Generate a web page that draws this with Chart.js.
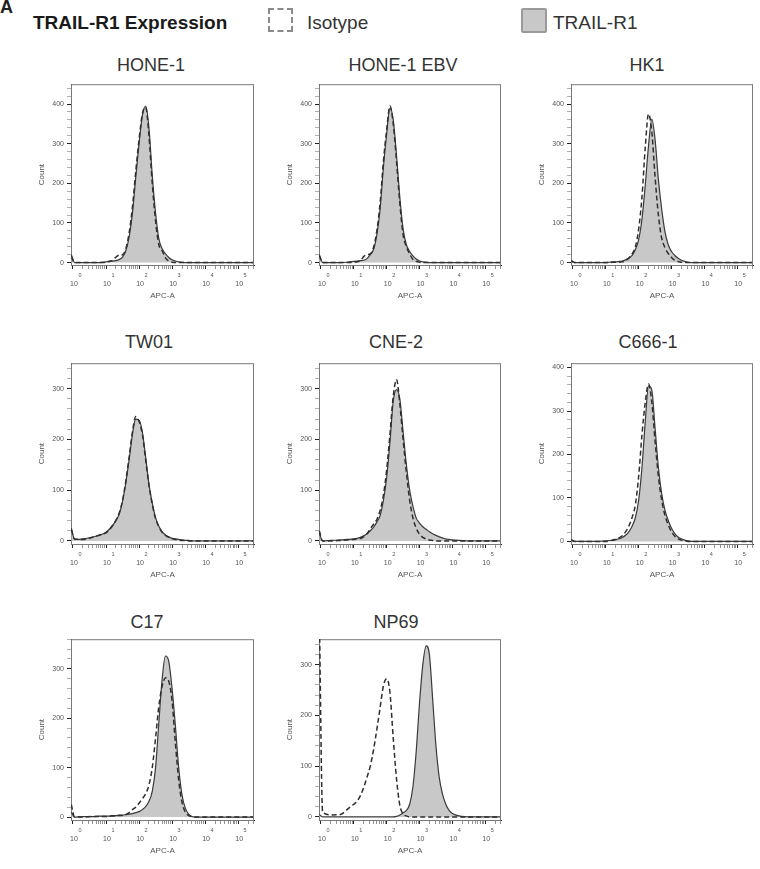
<!DOCTYPE html>
<html>
<head>
<meta charset="utf-8">
<script src="https://cdn.jsdelivr.net/npm/chart.js@4.4.0/dist/chart.umd.min.js"></script>
<style>
  body { margin: 0; background: #fff; }
  #page { position: relative; width: 760px; height: 869px; overflow: hidden; font-family: 'Liberation Sans', Arial, sans-serif; color: #222; }
  #page canvas { position: absolute; }
  .hdr { position: absolute; white-space: nowrap; }
  .ptitle { position: absolute; width: 200px; text-align: center; font: 18px/18px 'Liberation Sans', Arial, sans-serif; color: #333; }
</style>
</head>
<body>
<div id="page">
  <div class="hdr" style="left:0;top:-2px;font:bold 18px/18px 'Liberation Sans',Arial,sans-serif;">A</div>
  <div class="hdr" style="left:33px;top:13px;font:bold 19px/19px 'Liberation Sans',Arial,sans-serif;color:#1a1a1a;">TRAIL-R1 Expression</div>
  <div class="hdr" style="left:268px;top:8px;width:21px;height:20px;border:2.5px dashed #8a8a8a;"></div>
  <div class="hdr" style="left:307px;top:13px;font:19px/19px 'Liberation Sans',Arial,sans-serif;color:#333;">Isotype</div>
  <div class="hdr" style="left:521px;top:8px;width:22px;height:21px;border:2px solid #9a9a9a;border-radius:2px;background:#c8c8c8;"></div>
  <div class="hdr" style="left:553px;top:13px;font:19px/19px 'Liberation Sans',Arial,sans-serif;color:#333;">TRAIL-R1</div>
</div>
<script>
// --- DATA ---
// x positions in decades (log10 of APC-A), shared by all histograms
const logX = [
  -0.05, 0.05, 0.3, 0.6, 0.8,
  1.0, 1.1, 1.2, 1.3, 1.4, 1.5, 1.6, 1.7, 1.8, 1.9,
  2.0, 2.1, 2.2, 2.3, 2.4, 2.5, 2.6, 2.7, 2.8, 2.9,
  3.0, 3.1, 3.2, 3.3, 3.4, 3.5, 3.6, 3.7, 3.8, 3.9,
  4.0, 4.2, 4.6, 5.0, 5.45
];

const panelNames = ['HONE-1', 'HONE-1 EBV', 'HK1', 'TW01', 'CNE-2', 'C666-1', 'C17', 'NP69'];
const panelMaxY = [450, 450, 450, 350, 350, 410, 360, 350];

// decade ticks: base "10" on one axis, exponent on the other
const xDecades = [0, 1, 2, 3, 4, 5];
const xBaseLabel = '10';
const yLabelStep = 100;
const yMinorStep = 20;

const hone1Trail = [
  20, 0, 0, 0, 0,
  2, 4, 4, 5, 8, 14, 30, 65, 125, 215,
  300, 370, 395, 340, 220, 125, 60, 35, 22, 13,
  7, 4, 2, 1, 0, 0, 0, 0, 0, 0,
  0, 0, 0, 0, 0
];
const hone1Iso = [
  15, 0, 0, 0, 0,
  1, 3, 6, 14, 19, 20, 35, 75, 140, 230,
  310, 375, 392, 320, 200, 105, 45, 30, 12, 4,
  1, 0, 0, 0, 0, 0, 0, 0, 0, 0,
  0, 0, 0, 0, 0
];
const ebvTrail = [
  20, 0, 0, 0, 1,
  3, 4, 5, 6, 10, 20, 33, 70, 135, 240,
  325, 390, 360, 270, 165, 85, 45, 28, 17, 9,
  4, 2, 1, 0, 0, 0, 0, 0, 0, 0,
  0, 0, 0, 0, 0
];
const ebvIso = [
  18, 0, 0, 0, 0,
  1, 2, 5, 15, 20, 22, 38, 80, 150, 255,
  335, 395, 350, 255, 150, 70, 40, 22, 8, 3,
  1, 0, 0, 0, 0, 0, 0, 0, 0, 0,
  0, 0, 0, 0, 0
];
const hk1Trail = [
  5, 0, 0, 0, 0,
  0, 1, 2, 2, 3, 4, 7, 11, 18, 33,
  58, 110, 195, 295, 362, 310, 210, 135, 78, 45,
  28, 18, 11, 6, 3, 1, 0, 0, 0, 0,
  0, 0, 0, 0, 0
];
const hk1Iso = [
  4, 0, 0, 0, 0,
  0, 0, 1, 1, 1, 2, 5, 12, 22, 40,
  85, 165, 290, 375, 330, 215, 120, 62, 38, 23,
  13, 6, 3, 1, 0, 0, 0, 0, 0, 0,
  0, 0, 0, 0, 0
];
const tw01Trail = [
  25, 3, 4, 8, 11,
  17, 23, 31, 40, 53, 78, 115, 160, 210, 240,
  238, 215, 165, 112, 75, 46, 29, 18, 12, 8,
  5, 4, 3, 2, 1, 1, 0, 0, 0, 0,
  0, 0, 0, 0, 0
];
const tw01Iso = [
  22, 4, 3, 7, 12,
  16, 22, 30, 41, 55, 80, 118, 165, 215, 245,
  235, 210, 160, 110, 72, 44, 28, 17, 11, 7,
  5, 3, 2, 1, 1, 0, 0, 0, 0, 0,
  0, 0, 0, 0, 0
];
const cne2Trail = [
  15, 0, 1, 2, 3,
  4, 5, 7, 10, 14, 20, 27, 37, 50, 80,
  125, 195, 275, 298, 280, 215, 150, 100, 68, 45,
  35, 28, 23, 18, 14, 11, 8, 6, 4, 3,
  2, 1, 0, 0, 0
];
const cne2Iso = [
  20, 0, 0, 1, 2,
  3, 4, 5, 8, 14, 24, 33, 42, 60, 90,
  140, 210, 285, 318, 270, 200, 135, 80, 45, 25,
  13, 7, 4, 2, 1, 0, 0, 0, 0, 0,
  0, 0, 0, 0, 0
];
const c666Trail = [
  3, 0, 0, 0, 0,
  1, 2, 2, 4, 6, 9, 14, 22, 35, 55,
  95, 170, 275, 358, 348, 260, 170, 110, 72, 48,
  30, 18, 10, 6, 3, 1, 0, 0, 0, 0,
  0, 0, 0, 0, 0
];
const c666Iso = [
  4, 0, 0, 0, 0,
  0, 1, 3, 5, 8, 13, 22, 35, 55, 85,
  150, 245, 320, 362, 320, 230, 150, 95, 60, 38,
  22, 12, 6, 3, 1, 0, 0, 0, 0, 0,
  0, 0, 0, 0, 0
];
const c17Trail = [
  10, 0, 1, 1, 2,
  2, 2, 3, 3, 4, 4, 5, 6, 7, 9,
  11, 15, 21, 32, 52, 100, 192, 280, 326, 315,
  260, 185, 100, 45, 18, 6, 1, 0, 0, 0,
  0, 0, 0, 0, 0
];
const c17Iso = [
  25, 0, 0, 1, 1,
  1, 2, 2, 2, 3, 3, 5, 9, 15, 20,
  28, 37, 47, 65, 100, 160, 225, 265, 282, 275,
  235, 150, 75, 30, 10, 3, 1, 0, 0, 0,
  0, 0, 0, 0, 0
];
const np69Trail = [
  5, 0, 0, 0, 0,
  0, 0, 0, 0, 0, 0, 0, 0, 0, 0,
  0, 0, 0, 1, 4, 8, 13, 25, 60, 130,
  225, 300, 337, 320, 232, 140, 78, 45, 25, 13,
  7, 2, 0, 0, 0
];
const np69Iso = [
  400, 10, 4, 5, 15,
  25, 31, 42, 58, 78, 100, 132, 172, 215, 258,
  272, 245, 155, 75, 23, 6, 2, 0, 0, 0,
  0, 0, 0, 0, 0, 0, 0, 0, 0, 0,
  0, 0, 0, 0, 0
];

const trailSeries = [hone1Trail, ebvTrail, hk1Trail, tw01Trail, cne2Trail, c666Trail, c17Trail, np69Trail];
const isoSeries = [hone1Iso, ebvIso, hk1Iso, tw01Iso, cne2Iso, c666Iso, c17Iso, np69Iso];

// --- LAYOUT (plot box left, top, width, height) ---
const PANEL_BOXES = [
  [71, 83, 183, 182], [319, 83, 182, 182], [571, 83, 182, 182],
  [71, 362, 183, 182], [319, 362, 182, 182], [571, 362, 182, 182],
  [71, 638, 183, 182], [319, 638, 182, 182]
];
const TITLE_CX = [151, 403, 647, 149, 396, 648, 147, 396];
const TITLE_CY = [65, 65, 65, 342, 342, 342, 622, 622];
const Y_AXIS_W = 40, X_EXP_H = 13, X_BASE_H = 27, PAD_TOP = 6, PAD_RIGHT = 4;
const X_MIN = -0.06, X_MAX = 5.48;
const FONT = "'Liberation Sans', Arial, sans-serif";

// minor tick positions on the log axis (2..9 in each decade)
const xMinor = [];
for (let d = 0; d <= 5; d++) {
    for (let k = 2; k <= 9; k++) {
        const v = d + Math.log10(k);
        if (v < X_MAX) xMinor.push(v);
    }
}

const framePlugin = {
    id: 'frame',
    beforeDatasetsDraw(chart) {
        const { ctx, chartArea: a } = chart;
        ctx.save();
        ctx.strokeStyle = '#7a7a7a';
        ctx.lineWidth = 1;
        ctx.strokeRect(a.left + 0.5, a.top + 0.5, a.width - 1, a.height);
        ctx.restore();
    }
};

function isWhole(v) { return Math.abs(v - Math.round(v)) < 1e-9; }

function renderPanel(i) {
    const page = document.getElementById('page');
    const [left, top, w, h] = PANEL_BOXES[i];

    const title = document.createElement('div');
    title.className = 'ptitle';
    title.textContent = panelNames[i];
    title.style.left = (TITLE_CX[i] - 100) + 'px';
    title.style.top = (TITLE_CY[i] - 9) + 'px';
    page.appendChild(title);

    const canvas = document.createElement('canvas');
    canvas.width = Y_AXIS_W + w + PAD_RIGHT;
    canvas.height = PAD_TOP + h + X_EXP_H + X_BASE_H;
    canvas.style.left = (left - Y_AXIS_W) + 'px';
    canvas.style.top = (top - PAD_TOP) + 'px';
    page.appendChild(canvas);

    const toPoints = vals => logX.map((x, j) => ({ x: x, y: vals[j] }));
    const maxY = panelMaxY[i];

    new Chart(canvas.getContext('2d'), {
        type: 'line',
        data: {
            datasets: [
                {
                    label: 'Isotype',
                    data: toPoints(isoSeries[i]),
                    borderColor: '#2e2e2e',
                    borderWidth: 1.5,
                    borderDash: [5, 3],
                    fill: false,
                    pointRadius: 0,
                    cubicInterpolationMode: 'monotone'
                },
                {
                    label: 'TRAIL-R1',
                    data: toPoints(trailSeries[i]),
                    borderColor: '#3a3a3a',
                    backgroundColor: '#c8c8c8',
                    borderWidth: 1.2,
                    fill: 'origin',
                    pointRadius: 0,
                    cubicInterpolationMode: 'monotone'
                }
            ]
        },
        options: {
            responsive: false,
            animation: false,
            events: [],
            layout: { padding: { top: PAD_TOP, right: PAD_RIGHT, left: 0, bottom: 0 } },
            plugins: { legend: { display: false }, tooltip: { enabled: false }, title: { display: false } },
            scales: {
                // axis line, tick marks and decade exponents
                x: {
                    type: 'linear',
                    position: 'bottom',
                    weight: 0,
                    min: X_MIN,
                    max: X_MAX,
                    bounds: 'data',
                    afterBuildTicks: axis => {
                        axis.ticks = xDecades.concat(xMinor).sort((a, b) => a - b).map(v => ({ value: v }));
                    },
                    afterFit: axis => { axis.height = X_EXP_H; },
                    border: { display: true, color: '#222', width: 1 },
                    grid: {
                        drawOnChartArea: false,
                        drawTicks: true,
                        tickLength: 4,
                        tickColor: ctx => isWhole(ctx.tick.value) ? '#222' : '#666',
                        tickWidth: ctx => isWhole(ctx.tick.value) ? 1 : 0.7
                    },
                    ticks: {
                        autoSkip: false,
                        maxRotation: 0,
                        padding: 3,
                        labelOffset: 7,
                        color: '#555',
                        font: { family: FONT, size: 5.5 },
                        callback: v => isWhole(v) ? String(Math.round(v)) : ''
                    }
                },
                // "10" base labels and the axis title
                xb: {
                    type: 'linear',
                    position: 'bottom',
                    weight: 1,
                    min: X_MIN,
                    max: X_MAX,
                    bounds: 'data',
                    afterBuildTicks: axis => { axis.ticks = xDecades.map(v => ({ value: v })); },
                    afterFit: axis => { axis.height = X_BASE_H; },
                    border: { display: false },
                    grid: { display: false, drawTicks: false },
                    ticks: {
                        autoSkip: false,
                        maxRotation: 0,
                        padding: 2,
                        labelOffset: 1,
                        color: '#555',
                        font: { family: FONT, size: 7 },
                        callback: () => xBaseLabel
                    },
                    title: {
                        display: true,
                        text: 'APC-A',
                        color: '#555',
                        font: { family: FONT, size: 8 },
                        padding: { top: 0, bottom: 4 }
                    }
                },
                y: {
                    type: 'linear',
                    min: -6,
                    max: maxY,
                    bounds: 'data',
                    afterBuildTicks: axis => {
                        const t = [];
                        for (let v = 0; v <= maxY; v += yMinorStep) t.push({ value: v });
                        axis.ticks = t;
                    },
                    afterFit: axis => { axis.width = Y_AXIS_W; },
                    border: { display: true, color: '#222', width: 1 },
                    grid: {
                        drawOnChartArea: false,
                        drawTicks: true,
                        tickLength: 4,
                        tickColor: ctx => ctx.tick.value % yLabelStep === 0 ? '#222' : '#777',
                        tickWidth: ctx => ctx.tick.value % yLabelStep === 0 ? 1 : 0.6
                    },
                    ticks: {
                        autoSkip: false,
                        padding: 3,
                        color: '#555',
                        font: { family: FONT, size: 7 },
                        callback: v => v % yLabelStep === 0 ? String(v) : ''
                    },
                    title: {
                        display: true,
                        text: 'Count',
                        color: '#555',
                        font: { family: FONT, size: 8 },
                        padding: { top: 6, bottom: 0 }
                    }
                }
            }
        },
        plugins: [framePlugin]
    });
}

window.onload = function () {
    for (let i = 0; i < panelNames.length; i++) renderPanel(i);
};
</script>
</body>
</html>
